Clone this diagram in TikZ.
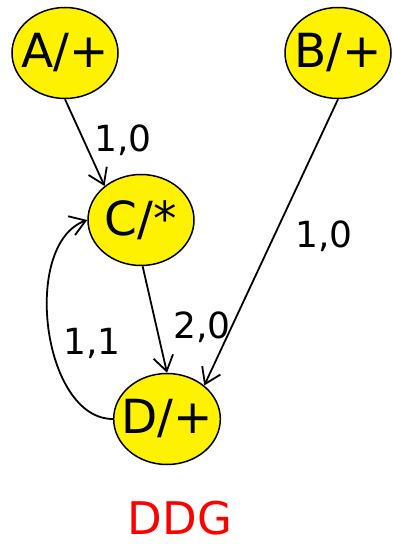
\documentclass[tikz,border=0pt]{standalone}
\usepackage{fontspec}
\setmainfont{DejaVu Sans}
\usetikzlibrary{shapes.geometric}
\usetikzlibrary{arrows.meta}
\tikzset{
    op/.style={
        ellipse, draw, fill=yellow, line width=1.5pt,
        minimum width=106pt, minimum height=91pt,
        inner xsep=-8pt, inner ysep=0pt,
        font=\fontsize{47}{56}\selectfont
    },
    dep/.style={
        line width=1.8pt,
        -{Straight Barb[length=15pt,width=20pt,line width=1.8pt]}
    },
    lat/.style={font=\fontsize{36}{43}\selectfont, inner sep=0pt}
}

\begin{document}
\begin{tikzpicture}[x=1pt,y=1pt]
		\useasboundingbox (0,0) rectangle (392,544);

		% operations
		\node[op] (A) at (65,491) {A/+};
		\node[op] (B) at (338,491) {B/+};
		\node[op] (C) at (141,324) {C/*};
		\node[op] (D) at (167,125) {D/+};

		% dependences
		\draw[dep] (A.270) -- (C.137);
		\draw[dep] (B.270) -- (D.42);
		\draw[dep] (C.272) -- (D.90);
		\draw[dep] (D.180) to[out=180,in=200,looseness=0.9] (C.180);

		% latency, distance
		\node[lat] (ac) at (123,404) {1,0};
		\node[lat] (bd) at (324,308) {1,0};
		\node[lat] (cd) at (202,217) {2,0};
		\node[lat] (dc) at (92,201) {1,1};

		\node[font=\fontsize{45}{54}\selectfont, text=red, inner sep=0pt] (title) at (180,26) {DDG};
	\end{tikzpicture}
\end{document}
